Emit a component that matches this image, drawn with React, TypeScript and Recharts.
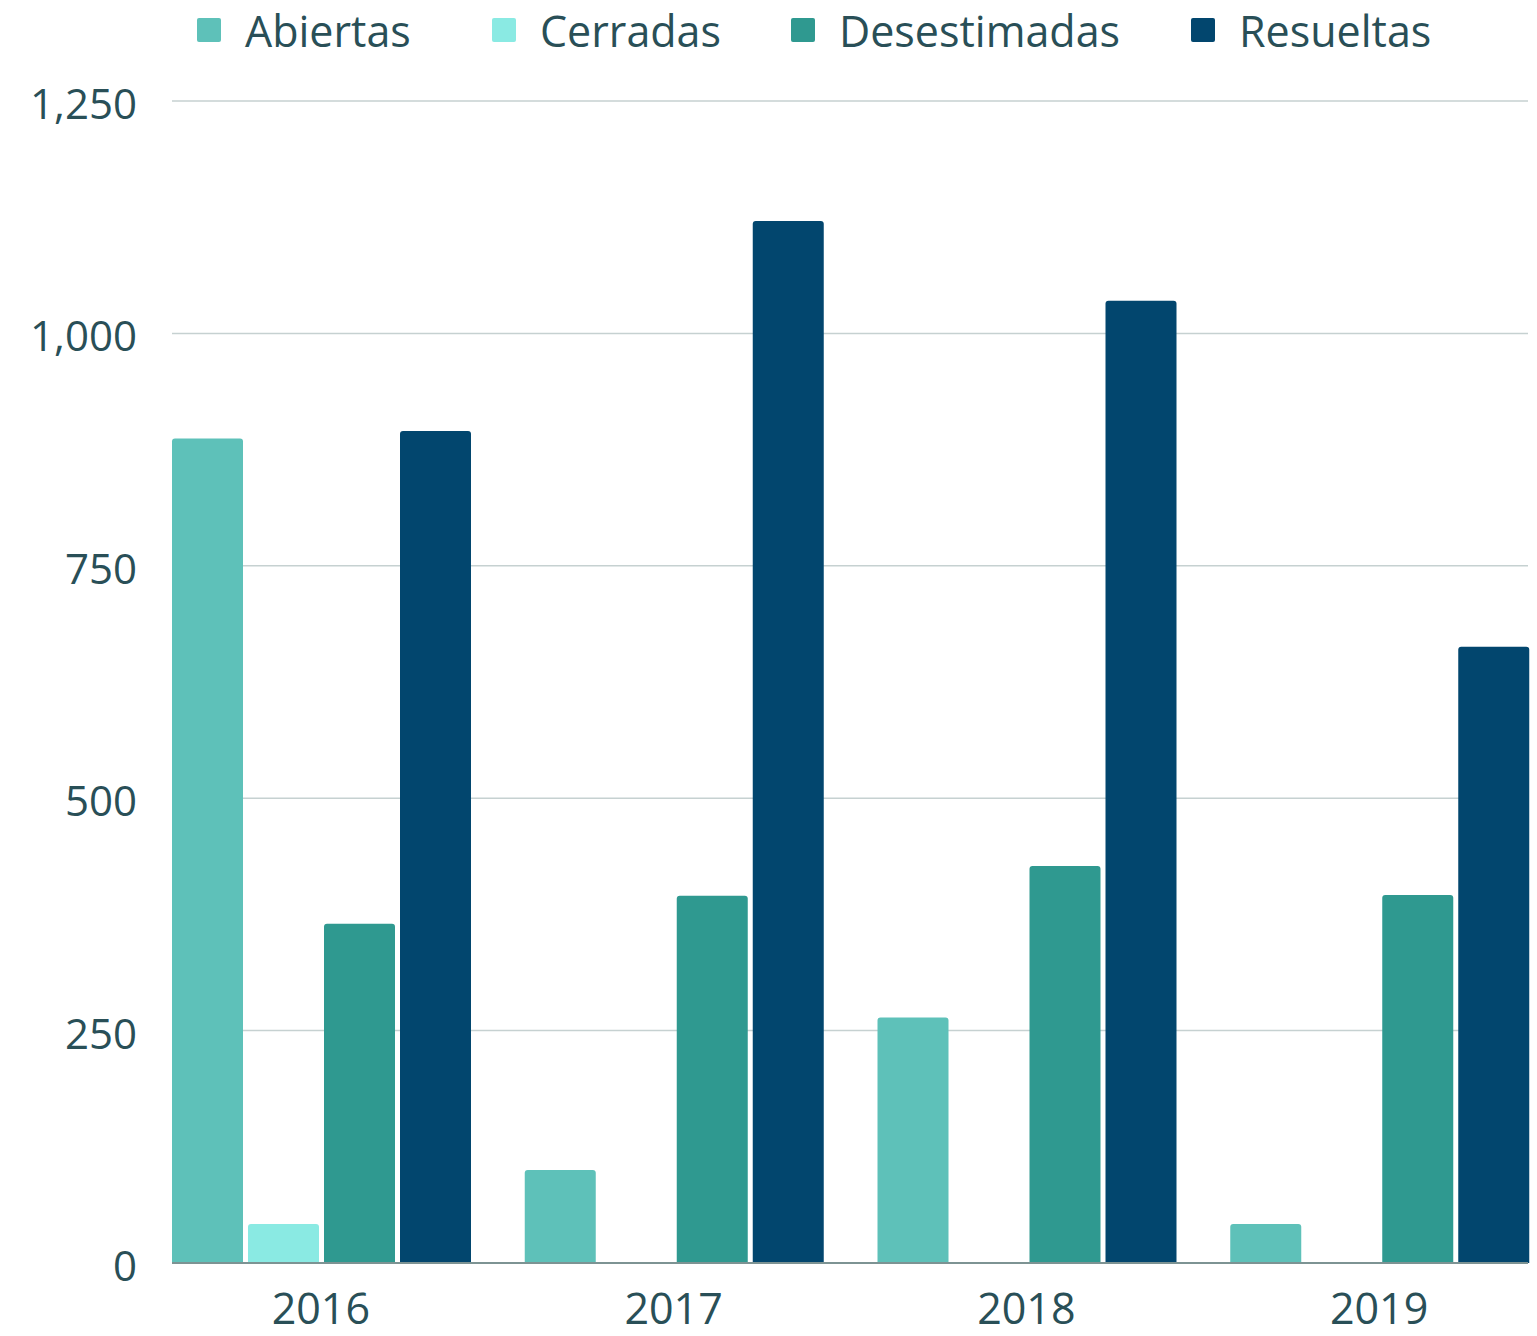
import { BarChart, Bar, XAxis, YAxis, CartesianGrid, Legend } from 'recharts';

const YEARS = ['2016', '2017', '2018', '2019'];
const ABIERTAS = [887, 100, 264, 42];
const CERRADAS = [42, 0, 0, 0];
const DESESTIMADAS = [365, 395, 427, 396];
const RESUELTAS = [895, 1121, 1035, 663];
const Y_TICKS = [0, 250, 500, 750, 1000, 1250];

const SERIES = [
  { key: 'abiertas', label: 'Abiertas', color: '#5ec1b9' },
  { key: 'cerradas', label: 'Cerradas', color: '#8aeae3' },
  { key: 'desestimadas', label: 'Desestimadas', color: '#2f9990' },
  { key: 'resueltas', label: 'Resueltas', color: '#02466e' },
];

// legend item widths (marker start to next marker start)
const LEGEND_WIDTHS = [295, 299, 400, 250];

const FONT = '"Open Sans", "Noto Sans", sans-serif';
const TEXT = '#294f57';

const data = YEARS.map((year, i) => ({
  year,
  abiertas: ABIERTAS[i],
  cerradas: CERRADAS[i],
  desestimadas: DESESTIMADAS[i],
  resueltas: RESUELTAS[i],
}));

function LegendContent() {
  return (
    <div style={{ display: 'flex', alignItems: 'center', height: 60, fontFamily: FONT, fontSize: 43, color: TEXT, lineHeight: 1 }}>
      {SERIES.map((s, i) => (
        <div key={s.key} style={{ display: 'flex', alignItems: 'center', width: LEGEND_WIDTHS[i], flexShrink: 0 }}>
          <span style={{ display: 'inline-block', width: 24, height: 24, borderRadius: 2, background: s.color, marginRight: 24 }} />
          <span>{s.label}</span>
        </div>
      ))}
    </div>
  );
}

export default function App() {
  return (
    <div style={{ position: 'absolute', left: 0, top: 0, background: '#fff' }}>
      <BarChart
        width={1537}
        height={1336}
        data={data}
        margin={{ top: 41, right: 9, bottom: 43, left: 0 }}
        barGap={5}
        barCategoryGap={27.5}
      >
        <CartesianGrid vertical={false} stroke="#c6d1d1" strokeWidth={1.5} />
        <XAxis
          dataKey="year"
          height={30}
          padding={{ left: -27.5, right: -27.5 }}
          axisLine={{ stroke: '#7d9393', strokeWidth: 2 }}
          tickLine={false}
          tickSize={0}
          tickMargin={30}
          tick={{ fill: TEXT, fontSize: 43, fontFamily: FONT }}
        />
        <YAxis
          width={172}
          domain={[0, 1250]}
          ticks={Y_TICKS}
          axisLine={false}
          tickLine={false}
          tickSize={0}
          tickMargin={35}
          tickFormatter={(v: number) => v.toLocaleString('en-US')}
          tick={{ fill: TEXT, fontSize: 42, fontFamily: FONT, dy: 3 }}
        />
        <Legend
          verticalAlign="top"
          align="left"
          content={<LegendContent />}
          wrapperStyle={{ top: 0, left: 197, width: 1330, height: 60 }}
        />
        {SERIES.map((s) => (
          <Bar key={s.key} dataKey={s.key} name={s.label} fill={s.color} radius={[3, 3, 0, 0]} isAnimationActive={false} />
        ))}
      </BarChart>
    </div>
  );
}
